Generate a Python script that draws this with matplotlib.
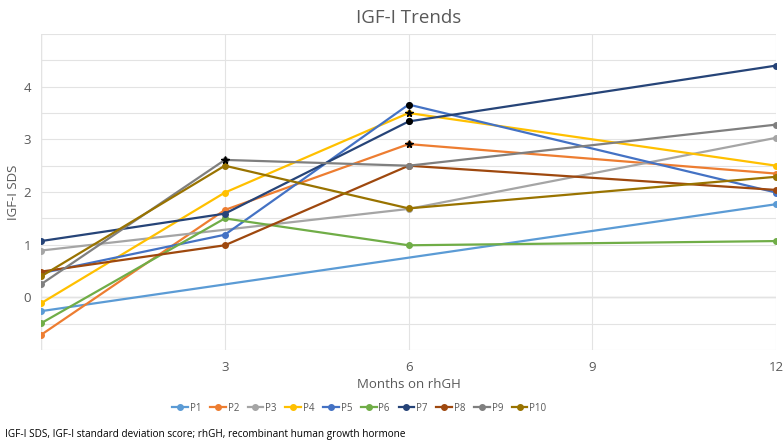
import matplotlib
matplotlib.use("Agg")
import matplotlib.pyplot as plt
import numpy as np

plt.rcParams["font.family"] = ["Open Sans", "DejaVu Sans"]

months = [0, 3, 6, 12]
names = ["P1", "P2", "P3", "P4", "P5", "P6", "P7", "P8", "P9", "P10"]
colors = ["#5B9BD5", "#ED7D31", "#A5A5A5", "#FFC000", "#4472C4",
          "#70AD47", "#264478", "#9E480E", "#7F7F7F", "#997300"]

# NaN = no measurement at that visit
p1 = [-0.26, np.nan, np.nan, 1.77]
p2 = [-0.71, 1.66, 2.91, 2.35]
p3 = [0.89, np.nan, 1.68, 3.03]
p4 = [-0.11, 1.99, 3.50, 2.50]
p5 = [0.46, 1.19, 3.66, 1.99]
p6 = [-0.49, 1.50, 0.99, 1.07]
p7 = [1.07, 1.59, 3.34, 4.40]
p8 = [0.49, 0.99, 2.50, 2.04]
p9 = [0.25, 2.61, 2.50, 3.28]
p10 = [0.40, 2.50, 1.69, 2.29]
series = [p1, p2, p3, p4, p5, p6, p7, p8, p9, p10]

# black flags overlaid on some points: (patient index, visit index, marker)
flags = [(8, 1, "*"), (1, 2, "*"), (3, 2, "*"), (4, 2, "o"), (6, 2, "o")]

TEXT = "#595959"
GRID = "#E3E3E3"

fig = plt.figure(figsize=(7.83, 4.41), dpi=100)
ax = fig.add_axes([0.0524, 0.206, 0.939, 0.717])

for name, col, vals in zip(names, colors, series):
    x = np.array(months, dtype=float)
    y = np.array(vals, dtype=float)
    m = ~np.isnan(y)
    ax.plot(x[m], y[m], color=col, linewidth=1.6, marker="o", markersize=4,
            label=name, zorder=3)

for i, j, mk in flags:
    ax.plot(months[j], series[i][j], marker=mk, color="black",
            markersize=5.5 if mk == "*" else 4, linestyle="none", zorder=4)

ax.set_xlim(0, 12)
ax.set_ylim(-1, 5)
ax.set_xticks([3, 6, 9, 12])
ax.set_xticks([0], minor=True)
ax.set_yticks([0, 1, 2, 3, 4])
ax.set_yticks(np.arange(-1, 5.01, 0.5), minor=True)
ax.grid(True, which="both", color=GRID, linewidth=0.8, zorder=0)
ax.axhline(0, color="#D4D4D4", linewidth=1.0, zorder=1)
ax.axvline(0, color=GRID, linewidth=1.0, zorder=1)
ax.tick_params(which="both", length=0, colors=TEXT, labelsize=9.5)
ax.tick_params(axis="y", pad=7)
ax.tick_params(axis="x", pad=8)
for s in ax.spines.values():
    s.set_visible(False)

ax.set_title("IGF-I Trends", fontsize=13.5, color=TEXT, pad=8)
ax.set_ylabel("IGF-I SDS", fontsize=9.5, color=TEXT, labelpad=3)
ax.set_xlabel("Months on rhGH", fontsize=9.5, color=TEXT, labelpad=3)

leg = fig.legend(loc="center", bbox_to_anchor=(0.459, 0.074), ncol=10,
                 frameon=False, fontsize=7, handlelength=1.6,
                 columnspacing=0.9, handletextpad=0.2, labelcolor=TEXT)

fig.text(0.006, 0.008, "IGF-I SDS, IGF-I standard deviation score; rhGH, "
         "recombinant human growth hormone", fontsize=7.2, color="black")

fig.savefig("out.png", dpi=100, facecolor="white")
